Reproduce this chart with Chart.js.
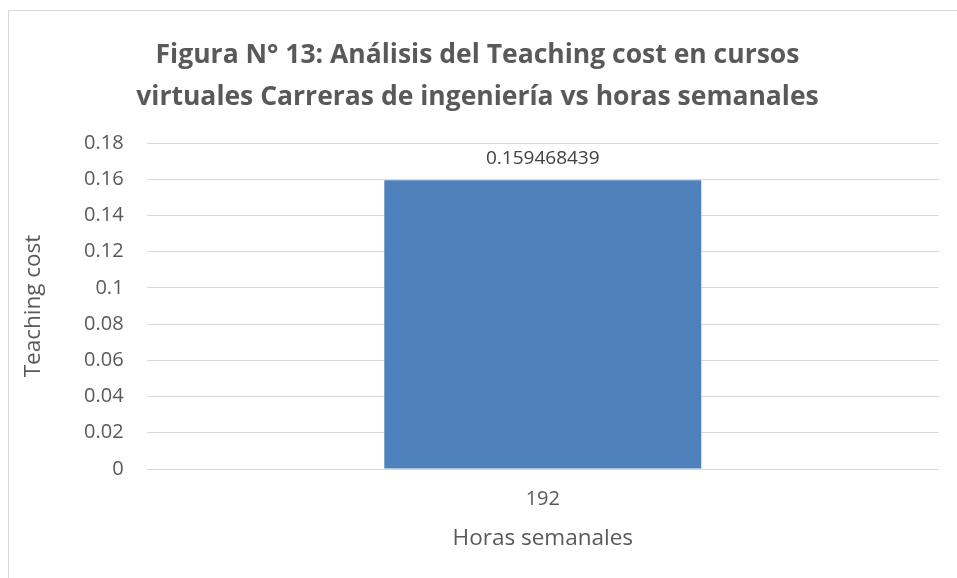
<!DOCTYPE html>
<html>
<head>
<meta charset="utf-8">
<script src="https://cdn.jsdelivr.net/npm/chart.js@4.4.1/dist/chart.umd.min.js"></script>
<style>
    html, body { margin: 0; padding: 0; background: #fff; }
    #wrap { position: relative; width: 957px; height: 578px; overflow: hidden; }
    #frame {
        position: absolute; left: 8px; top: 10px; width: 1000px; height: 700px;
        border-left: 1px solid #d9d9d9; border-top: 1px solid #d9d9d9;
        pointer-events: none;
    }
</style>
</head>
<body>
<div id="wrap">
    <canvas id="chart" width="957" height="578"></canvas>
    <div id="frame"></div>
</div>
<script>
// Data
const categories = ['192'];
const teachingCost = [0.159468439];
const yTicks = { min: 0, max: 0.18, step: 0.02 };

const FONT = "'Open Sans', 'Liberation Sans', sans-serif";

// Value label over each bar
const barLabels = {
    id: 'barLabels',
    afterDatasetsDraw(chart) {
        const ctx = chart.ctx;
        ctx.save();
        ctx.font = `19px ${FONT}`;
        ctx.fillStyle = '#404040';
        ctx.textAlign = 'center';
        ctx.textBaseline = 'middle';
        chart.getDatasetMeta(0).data.forEach((bar, i) => {
            ctx.fillText(String(teachingCost[i]), bar.x, bar.y - 22);
        });
        ctx.restore();
    }
};

new Chart(document.getElementById('chart'), {
    type: 'bar',
    data: {
        labels: categories,
        datasets: [{
            data: teachingCost,
            backgroundColor: '#4f81bd',
            borderWidth: 0,
            barPercentage: 0.4,
            categoryPercentage: 1
        }]
    },
    options: {
        responsive: false,
        animation: false,
        layout: { padding: { left: 16, right: 18, top: 14, bottom: 22 } },
        plugins: {
            legend: { display: false },
            tooltip: { enabled: false },
            title: {
                display: true,
                text: ['Figura N° 13: Análisis del Teaching cost en cursos',
                       'virtuales Carreras de ingeniería vs horas semanales'],
                color: '#595959',
                font: { family: FONT, size: 26.5, weight: 'bold', lineHeight: 1.585 },
                padding: { top: 20, bottom: 25 }
            }
        },
        scales: {
            x: {
                grid: { display: false },
                border: { display: false },
                ticks: { color: '#595959', font: { family: FONT, size: 20 }, padding: 10 },
                title: {
                    display: true, text: 'Horas semanales', color: '#595959',
                    font: { family: FONT, size: 22.5 }, padding: { top: 4, bottom: 4 }
                }
            },
            y: {
                min: yTicks.min,
                max: yTicks.max,
                grid: { color: '#d9d9d9', drawTicks: false },
                border: { display: false },
                ticks: {
                    stepSize: yTicks.step,
                    color: '#595959',
                    font: { family: FONT, size: 20 },
                    padding: 23,
                    callback: v => String(Math.round(v * 100) / 100)
                },
                title: {
                    display: true, text: 'Teaching cost', color: '#595959',
                    font: { family: FONT, size: 22.5 }, padding: { top: 4, bottom: 14 }
                }
            }
        }
    },
    plugins: [barLabels]
});
</script>
</body>
</html>
